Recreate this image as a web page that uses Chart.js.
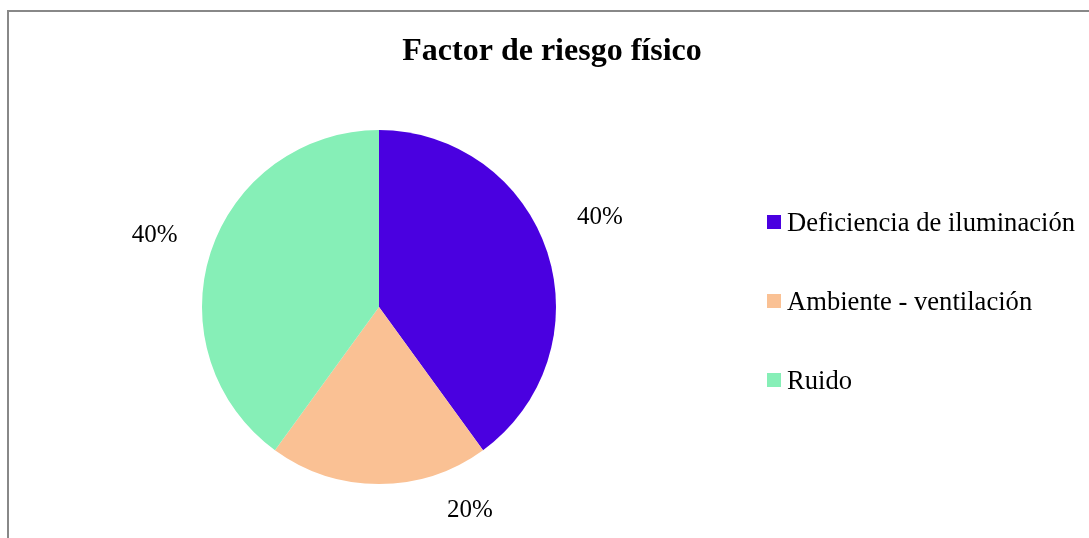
<!DOCTYPE html>
<html lang="es">
<head>
<meta charset="utf-8">
<title>Factor de riesgo físico</title>
<script src="https://cdn.jsdelivr.net/npm/chart.js@4/dist/chart.umd.min.js"></script>
<style>
  html, body { margin: 0; padding: 0; background: #fff; overflow: hidden; width: 1089px; height: 538px; }
  #frame { position: absolute; left: 7px; top: 10px; width: 1200px; height: 800px;
           border-left: 2px solid #888888; border-top: 2px solid #888888; }
  #wrap { position: absolute; left: 0; top: 0; width: 1104px; height: 538px; }
  #legend { position: absolute; left: 767px; top: 0; font-family: 'Liberation Serif', 'Times New Roman', serif;
            font-size: 26.6px; color: #000; }
  .item { position: absolute; left: 0; height: 30px; display: flex; align-items: center; white-space: nowrap; }
  .box { width: 14px; height: 14px; margin-right: 6px; flex: none; }
</style>
</head>
<body>
<div id="frame"></div>
<div id="wrap"><canvas id="chart"></canvas></div>
<div id="legend"></div>
<script>
// Physical risk factors and their shares
const chartTitle = 'Factor de riesgo físico';
const categories = ['Deficiencia de iluminación', 'Ambiente - ventilación', 'Ruido'];
const shares = [40, 20, 40];
const sliceColors = ['#4A00E0', '#FAC194', '#86EFB7'];

// Percentage labels outside each slice: angle nudge (degrees) and gap past the rim (px)
const labelPlacement = [
  { nudge: -4.5, gap: 62 },
  { nudge: -24.3, gap: 44 },
  { nudge: 0, gap: 59 }
];

const SERIF = '"Liberation Serif", "Times New Roman", serif';

// Title centred across the whole chart box, independent of the pie's layout padding
const centredTitle = {
  id: 'centredTitle',
  afterDraw(chart, args, opts) {
    const ctx = chart.ctx;
    ctx.save();
    ctx.font = 'bold 32px ' + SERIF;
    ctx.fillStyle = '#000';
    ctx.textAlign = 'center';
    ctx.textBaseline = 'alphabetic';
    ctx.fillText(opts.text, chart.width / 2, opts.baseline);
    ctx.restore();
  }
};

const outsideLabels = {
  id: 'outsideLabels',
  afterDatasetsDraw(chart) {
    const ctx = chart.ctx;
    const ds = chart.data.datasets[0];
    const total = ds.data.reduce((a, b) => a + b, 0);
    const meta = chart.getDatasetMeta(0);
    const size = 25;
    ctx.save();
    ctx.font = size + 'px ' + SERIF;
    ctx.fillStyle = '#000';
    ctx.textAlign = 'center';
    ctx.textBaseline = 'alphabetic';
    meta.data.forEach((arc, i) => {
      const p = arc.getProps(['x', 'y', 'startAngle', 'endAngle', 'outerRadius'], true);
      const place = labelPlacement[i];
      const a = (p.startAngle + p.endAngle) / 2 + place.nudge * Math.PI / 180;
      const r = p.outerRadius + place.gap;
      const x = p.x + Math.cos(a) * r;
      const y = p.y + Math.sin(a) * r;
      const pct = Math.round(ds.data[i] / total * 100) + '%';
      ctx.fillText(pct, x, y + size * 0.331);
    });
    ctx.restore();
  }
};

const chart = new Chart(document.getElementById('chart'), {
  type: 'pie',
  data: {
    labels: categories,
    datasets: [{
      data: shares,
      backgroundColor: sliceColors,
      borderWidth: 0
    }]
  },
  options: {
    responsive: true,
    maintainAspectRatio: false,
    animation: false,
    layout: { padding: { left: 202, right: 548, top: 130, bottom: 54 } },
    plugins: {
      legend: { display: false },
      tooltip: { enabled: false },
      title: { display: false },
      centredTitle: { text: chartTitle, baseline: 60 }
    }
  },
  plugins: [outsideLabels, centredTitle]
});

// Legend rows built from the same categories and colours
const legend = document.getElementById('legend');
const rowCenters = [222, 301, 380];
categories.forEach((name, i) => {
  const row = document.createElement('div');
  row.className = 'item';
  row.style.top = (rowCenters[i] - 15) + 'px';
  const box = document.createElement('span');
  box.className = 'box';
  box.style.background = sliceColors[i];
  const txt = document.createElement('span');
  txt.textContent = name;
  row.appendChild(box);
  row.appendChild(txt);
  legend.appendChild(row);
});
</script>
</body>
</html>
